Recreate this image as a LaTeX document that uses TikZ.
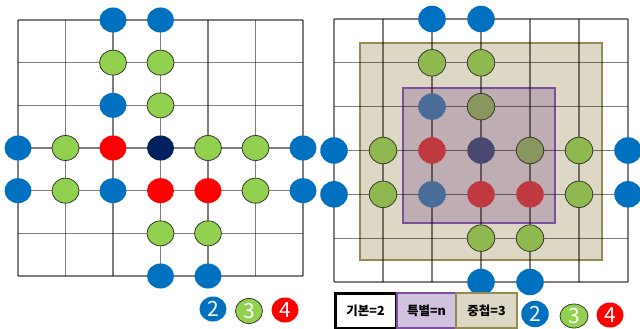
\documentclass[tikz,border=0pt]{standalone}
\usepackage{fontspec}
\setmainfont{Noto Sans CJK KR}
\usetikzlibrary{shapes.geometric}
\definecolor{cblue}{HTML}{0070C0}
\definecolor{cgreen}{HTML}{92D050}
\definecolor{cred}{HTML}{FF0000}
\definecolor{cnavy}{HTML}{002060}
\definecolor{cdark}{HTML}{3A3A2A}
\definecolor{bgreen}{HTML}{8FB850}
\definecolor{pblue}{HTML}{4A6C98}
\definecolor{pgreen}{HTML}{8A9660}
\definecolor{pred}{HTML}{BE3A40}
\definecolor{pnavy}{HTML}{484870}
\definecolor{beigefill}{HTML}{DDD8C5}
\definecolor{beigeline}{HTML}{948A54}
\definecolor{purpfill}{HTML}{BEADB2}
\definecolor{purpline}{HTML}{7F4F9F}
\definecolor{legpurp}{HTML}{D1C2E0}
\tikzset{
  gridline/.style={draw=black, draw opacity=0.5, line width=1.3pt},
  dot/.style={ellipse, minimum width=27pt, minimum height=25pt, inner sep=0pt},
  rdot/.style={ellipse, minimum width=27.5pt, minimum height=26.5pt, inner sep=0pt},
  bdot/.style={dot, fill=cblue},
  gdot/.style={dot, fill=cgreen, draw=cdark, line width=0.8pt},
  reddot/.style={dot, fill=cred},
  ndot/.style={dot, fill=cnavy},
  rb/.style={rdot, fill=cblue},
  rg/.style={rdot, fill=bgreen, draw=cdark, line width=0.8pt},
  rpb/.style={rdot, fill=pblue},
  rpg/.style={rdot, fill=pgreen, draw=cdark, line width=0.8pt},
  rpr/.style={rdot, fill=pred},
  rpn/.style={rdot, fill=pnavy},
  legnum/.style={text=white, font=\fontsize{21}{21}\selectfont},
  legbox/.style={minimum height=35pt, inner sep=0pt, font=\bfseries\fontsize{12.5}{12.5}\selectfont},
}
\begin{document}
\begin{tikzpicture}[x=1pt,y=-1pt]
\useasboundingbox (0,0) rectangle (640,329);
% ---------- left diagram ----------
\begin{scope}[shift={(18,20)}, x=47.5pt, y=-42.667pt]
  \foreach \i in {0,...,6} {
    \draw[gridline] (\i,0) -- (\i,6);
    \draw[gridline] (0,\i) -- (6,\i);
  }
  \node[bdot] (L20) at (2,0) {};
  \node[bdot] (L30) at (3,0) {};
  \node[gdot] (L21) at (2,1) {};
  \node[gdot] (L31) at (3,1) {};
  \node[bdot] (L22) at (2,2) {};
  \node[gdot] (L32) at (3,2) {};
  \node[bdot] (L03) at (0,3) {};
  \node[gdot] (L13) at (1,3) {};
  \node[reddot] (L23) at (2,3) {};
  \node[ndot] (L33) at (3,3) {};
  \node[gdot] (L43) at (4,3) {};
  \node[gdot] (L53) at (5,3) {};
  \node[bdot] (L63) at (6,3) {};
  \node[bdot] (L04) at (0,4) {};
  \node[gdot] (L14) at (1,4) {};
  \node[bdot] (L24) at (2,4) {};
  \node[reddot] (L34) at (3,4) {};
  \node[reddot] (L44) at (4,4) {};
  \node[gdot] (L54) at (5,4) {};
  \node[bdot] (L64) at (6,4) {};
  \node[gdot] (L35) at (3,5) {};
  \node[gdot] (L45) at (4,5) {};
  \node[bdot] (L36) at (3,6) {};
  \node[bdot] (L46) at (4,6) {};
\end{scope}
\node[bdot, legnum] (LL2) at (213,309) {2};
\node[gdot, legnum] (LL3) at (249,311) {3};
\node[reddot, legnum] (LL4) at (285,310) {4};
% ---------- right diagram ----------
\draw[fill=beigefill, draw=beigeline, line width=1.6pt] (360,43) rectangle (602,260);
\draw[fill=purpfill, draw=purpline, line width=1.6pt] (403,88) rectangle (555,223);
\begin{scope}[shift={(334,19)}, x=49pt, y=-43.833pt]
  \foreach \i in {0,...,6} {
    \draw[gridline] (\i,0) -- (\i,6);
    \draw[gridline] (0,\i) -- (6,\i);
  }
  \node[rb] (R20) at (2,0) {};
  \node[rb] (R30) at (3,0) {};
  \node[rg] (R21) at (2,1) {};
  \node[rg] (R31) at (3,1) {};
  \node[rpb] (R22) at (2,2) {};
  \node[rpg] (R32) at (3,2) {};
  \node[rb] (R03) at (0,3) {};
  \node[rg] (R13) at (1,3) {};
  \node[rpr] (R23) at (2,3) {};
  \node[rpn] (R33) at (3,3) {};
  \node[rpg] (R43) at (4,3) {};
  \node[rg] (R53) at (5,3) {};
  \node[rb] (R63) at (6,3) {};
  \node[rb] (R04) at (0,4) {};
  \node[rg] (R14) at (1,4) {};
  \node[rpb] (R24) at (2,4) {};
  \node[rpr] (R34) at (3,4) {};
  \node[rpr] (R44) at (4,4) {};
  \node[rg] (R54) at (5,4) {};
  \node[rb] (R64) at (6,4) {};
  \node[rg] (R35) at (3,5) {};
  \node[rg] (R45) at (4,5) {};
  \node[rb] (R36) at (3,6) {};
  \node[rb] (R46) at (4,6) {};
\end{scope}
% legend boxes
\node[legbox, minimum width=61pt, fill=white, draw=black, line width=3pt] (K1) at (365.5,310.5) {기본=2};
\node[legbox, minimum width=59pt, fill=legpurp, draw=purpline, line width=2pt] (K2) at (426.5,310.5) {특별=n};
\node[legbox, minimum width=61pt, fill=beigefill, draw=beigeline, line width=2pt] (K3) at (486.5,310.5) {중첩=3};
\node[rb, legnum] (RL2) at (535,314) {2};
\node[gdot, legnum, minimum width=28pt, minimum height=24pt] (RL3) at (574,316) {3};
\node[reddot, legnum] (RL4) at (610,315) {4};
\end{tikzpicture}
\end{document}
